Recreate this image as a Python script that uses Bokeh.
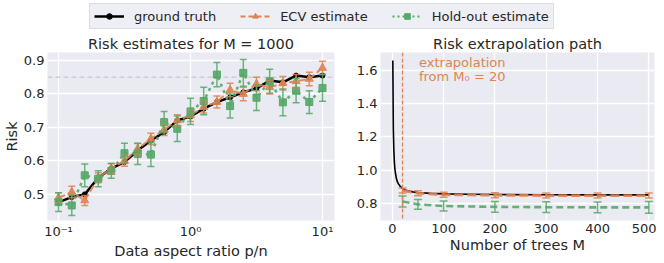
from bokeh.plotting import figure
from bokeh.models import (Range1d, FixedTicker, PrintfTickFormatter, CustomJSTickFormatter,
                          Whisker, TeeHead, ColumnDataSource, Span, Label, Legend, LegendItem)
from bokeh.layouts import column, row
from bokeh.embed import file_html
from bokeh.resources import INLINE

# ---------------- data (left panel) ----------------
ratio = [0.1, 0.126, 0.158, 0.2, 0.251, 0.316, 0.398, 0.501, 0.631, 0.794, 1.0,
         1.259, 1.585, 1.995, 2.512, 3.162, 3.981, 5.012, 6.31, 7.943, 10.0]
truth = [0.477, 0.492, 0.500, 0.550, 0.577, 0.597, 0.631, 0.661, 0.686, 0.721, 0.733,
         0.756, 0.776, 0.790, 0.805, 0.817, 0.840, 0.835, 0.855, 0.850, 0.855]
ecv = [0.490, 0.507, 0.482, 0.550, 0.577, 0.600, 0.636, 0.666, 0.693, 0.721, 0.736,
       0.761, 0.776, 0.812, 0.800, 0.830, 0.820, 0.832, 0.838, 0.845, 0.878]
ecv_err = [0.015, 0.017, 0.015, 0.015, 0.015, 0.016, 0.016, 0.017, 0.017, 0.017, 0.018,
           0.018, 0.018, 0.020, 0.020, 0.020, 0.020, 0.020, 0.020, 0.020, 0.020]
hold = [0.477, 0.467, 0.557, 0.547, 0.570, 0.623, 0.621, 0.619, 0.716, 0.696, 0.748,
        0.779, 0.858, 0.764, 0.863, 0.789, 0.838, 0.775, 0.810, 0.776, 0.818]
hold_err = [0.028, 0.030, 0.034, 0.024, 0.022, 0.030, 0.032, 0.036, 0.032, 0.038, 0.039,
            0.041, 0.036, 0.036, 0.040, 0.038, 0.036, 0.040, 0.036, 0.034, 0.040]
ref_level = 0.85

# ---------------- data (right panel) ----------------
trees = [1, 2, 3, 4, 5, 6, 8, 10, 12, 15, 20, 25, 30, 40, 50, 75, 100, 150, 200, 300, 400, 500]
path_truth = [1.66, 1.25, 1.12, 1.05, 1.01, 0.985, 0.95, 0.93, 0.918, 0.905, 0.89, 0.882,
              0.877, 0.870, 0.866, 0.861, 0.858, 0.856, 0.854, 0.853, 0.852, 0.852]
ext_trees = [20, 50, 100, 200, 300, 400, 500]
ext_ecv = [0.878, 0.862, 0.853, 0.850, 0.848, 0.848, 0.848]
ext_ecv_err = [0.015, 0.015, 0.015, 0.015, 0.015, 0.015, 0.015]
ext_hold = [0.812, 0.795, 0.785, 0.780, 0.778, 0.777, 0.777]
ext_hold_err = [0.033, 0.030, 0.030, 0.032, 0.032, 0.032, 0.035]
M0 = 20

BLACK = "#000000"
ORANGE = "#DD8452"
GREEN = "#55A868"
BG = "#EAEAF2"
TXT = "#262626"
FONT = "DejaVu Sans"


def style(p):
    p.background_fill_color = BG
    p.border_fill_color = "white"
    p.outline_line_color = None
    p.grid.grid_line_color = "white"
    p.grid.grid_line_width = 1.3
    p.axis.axis_line_color = None
    p.axis.major_tick_line_color = None
    p.axis.minor_tick_line_color = None
    p.axis.major_tick_out = 0
    p.axis.major_tick_in = 0
    p.axis.minor_tick_out = 0
    p.axis.minor_tick_in = 0
    p.axis.major_label_text_font = FONT
    p.axis.major_label_text_font_size = "13px"
    p.axis.major_label_text_color = TXT
    p.axis.major_label_standoff = 3
    p.axis.axis_label_text_font = FONT
    p.axis.axis_label_text_font_size = "14.5px"
    p.axis.axis_label_text_font_style = "normal"
    p.axis.axis_label_text_color = TXT
    p.axis.axis_label_standoff = 1
    p.title.text_font = FONT
    p.title.text_font_size = "14.5px"
    p.title.text_font_style = "normal"
    p.title.text_color = TXT
    p.title.align = "center"
    p.title.standoff = 2
    p.title.offset = 0


def whisk(p, x, y, err, color, cap=7, alpha=0.85):
    src = ColumnDataSource(dict(x=x, lo=[a - b for a, b in zip(y, err)],
                                hi=[a + b for a, b in zip(y, err)]))
    w = Whisker(base="x", lower="lo", upper="hi", source=src, line_color=color,
                line_width=1.5, line_alpha=alpha,
                lower_head=TeeHead(size=cap, line_color=color, line_width=1.5, line_alpha=alpha),
                upper_head=TeeHead(size=cap, line_color=color, line_width=1.5, line_alpha=alpha),
                level="glyph")
    p.add_layout(w)


# ---------------- left figure ----------------
p1 = figure(frame_width=287, frame_height=168, x_axis_type="log",
            x_range=Range1d(0.0825, 12.33), y_range=Range1d(0.422, 0.924),
            title="Risk estimates for M = 1000",
            output_backend="svg", toolbar_location=None,
            min_border_left=10, min_border_right=5, min_border_top=20, min_border_bottom=10)
style(p1)
p1.xaxis.ticker = FixedTicker(ticks=[0.1, 1, 10])
p1.xaxis.formatter = CustomJSTickFormatter(code="""
const e = Math.round(Math.log10(tick));
const m = {"-1": "10\u207b\u00b9", "0": "10\u2070", "1": "10\u00b9"};
return m[String(e)] || String(tick);
""")
p1.yaxis.ticker = FixedTicker(ticks=[0.5, 0.6, 0.7, 0.8, 0.9])
p1.yaxis.formatter = PrintfTickFormatter(format="%.1f")
p1.xaxis.axis_label = "Data aspect ratio p/n"
p1.yaxis.axis_label = "Risk"

p1.add_layout(Span(location=ref_level, dimension="width", line_color="#cfcfcf",
                   line_dash="5 3", line_width=1.3, level="underlay"))

p1.line(ratio, truth, line_color=BLACK, line_width=2.5)
p1.scatter(ratio, truth, marker="circle", size=5, fill_color=BLACK, line_color=BLACK)

whisk(p1, ratio, ecv, ecv_err, ORANGE, cap=7)
p1.line(ratio, ecv, line_color=ORANGE, line_width=2, line_dash="7 3", line_alpha=0.9)
p1.scatter(ratio, ecv, marker="triangle", size=8, fill_color=ORANGE, line_color=ORANGE,
           fill_alpha=0.85)

whisk(p1, ratio, hold, hold_err, GREEN, cap=7)
p1.line(ratio, hold, line_color=GREEN, line_width=2.5, line_dash="3 4", line_alpha=0.9)
p1.scatter(ratio, hold, marker="square", size=7, fill_color=GREEN, line_color=GREEN,
           fill_alpha=0.9)

# ---------------- right figure ----------------
p2 = figure(frame_width=274, frame_height=168,
            x_range=Range1d(-23, 511), y_range=Range1d(0.698, 1.708),
            title="Risk extrapolation path",
            output_backend="svg", toolbar_location=None,
            min_border_left=41, min_border_right=2, min_border_top=20, min_border_bottom=10)
style(p2)
p2.xaxis.ticker = FixedTicker(ticks=[0, 100, 200, 300, 400, 500])
p2.yaxis.ticker = FixedTicker(ticks=[0.8, 1.0, 1.2, 1.4, 1.6])
p2.yaxis.formatter = PrintfTickFormatter(format="%.1f")
p2.xaxis.axis_label = "Number of trees M"

p2.line(trees, path_truth, line_color=BLACK, line_width=1.6)

whisk(p2, ext_trees, ext_ecv, ext_ecv_err, ORANGE, cap=8)
p2.line(ext_trees, ext_ecv, line_color=ORANGE, line_width=2.8, line_dash="9 4", line_alpha=0.9)

whisk(p2, ext_trees, ext_hold, ext_hold_err, GREEN, cap=8)
p2.line(ext_trees, ext_hold, line_color=GREEN, line_width=2.6, line_dash="7 4", line_alpha=0.9)

p2.add_layout(Span(location=M0, dimension="height", line_color=ORANGE,
                   line_dash="4 2", line_width=1.3))
p2.add_layout(Label(x=52, y=1.645, text="extrapolation", text_color=ORANGE,
                    text_font=FONT, text_font_size="13px", text_baseline="alphabetic"))
p2.add_layout(Label(x=52, y=1.565, text="from M\u2080 = 20", text_color=ORANGE,
                    text_font=FONT, text_font_size="13px", text_baseline="alphabetic"))

# ---------------- legend strip ----------------
lg = figure(width=648, height=32, x_range=Range1d(0, 1), y_range=Range1d(0, 1),
            output_backend="svg", toolbar_location=None,
            min_border=0)
lg.axis.visible = False
lg.grid.visible = False
lg.outline_line_color = None
lg.background_fill_color = "white"
lg.border_fill_color = "white"
dx, dy = [5, 6], [5, 5]
r1 = lg.line(dx, dy, line_color=BLACK, line_width=2.5)
r1m = lg.scatter(dx, dy, marker="circle", size=5, fill_color=BLACK, line_color=BLACK)
r2 = lg.line(dx, dy, line_color=ORANGE, line_width=2, line_dash="5 3")
r2m = lg.scatter(dx, dy, marker="triangle", size=7, fill_color=ORANGE, line_color=ORANGE)
r3 = lg.line(dx, dy, line_color=GREEN, line_width=2, line_dash="2 3")
r3m = lg.scatter(dx, dy, marker="square", size=6, fill_color=GREEN, line_color=GREEN)
leg = Legend(items=[LegendItem(label="ground truth", renderers=[r1, r1m]),
                    LegendItem(label="ECV estimate", renderers=[r2, r2m]),
                    LegendItem(label="Hold-out estimate", renderers=[r3, r3m])],
             location=(89, 3), orientation="horizontal",
             label_text_font=FONT, label_text_font_size="13px", label_text_color=TXT,
             glyph_width=30, glyph_height=14, label_standoff=10, spacing=24,
             padding=4, margin=0, border_line_color="#cccccc", border_line_width=1,
             background_fill_color=BG, background_fill_alpha=0.8,
             label_height=16)
lg.add_layout(leg, "center")

layout = column(lg, row(p1, p2))
open("out.html", "w").write(file_html(layout, INLINE))
